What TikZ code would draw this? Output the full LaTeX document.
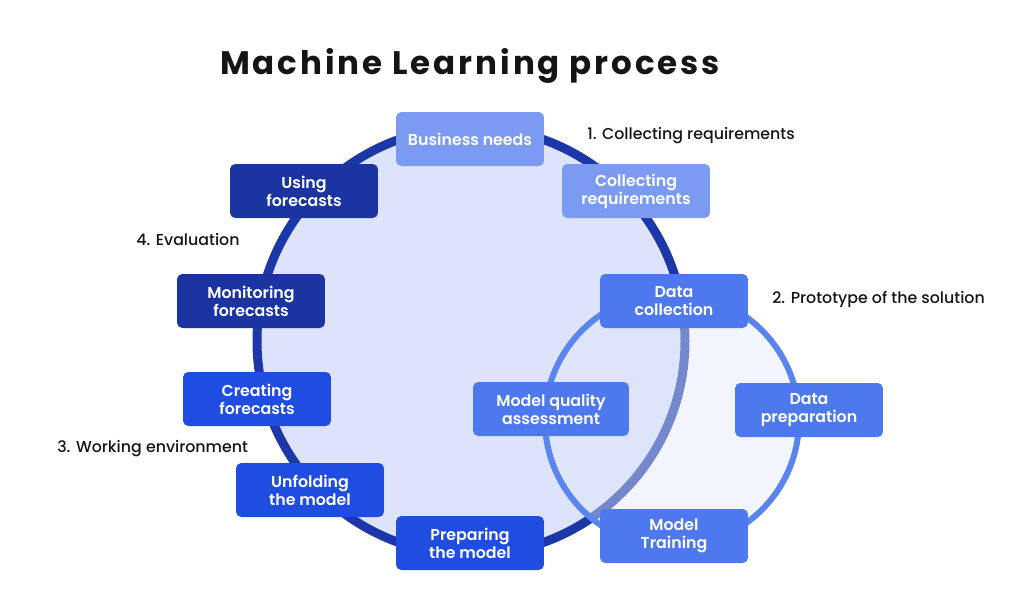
\documentclass[tikz,border=0pt]{standalone}
\usepackage{fontspec}
\setmainfont{Poppins}
\newfontfamily\labelfont{Poppins Medium}
\newfontfamily\boxfont{Poppins SemiBold}
\usepackage{tikz}
\usetikzlibrary{positioning}
\definecolor{ink}{HTML}{151515}
\definecolor{bigring}{HTML}{1C38A8}
\definecolor{bigfill}{HTML}{DCE3FA}
\definecolor{smallring}{HTML}{5A84F0}
\definecolor{smallfill}{HTML}{E2E9FC}
\definecolor{boxlight}{HTML}{7B9BF2}
\definecolor{boxmid}{HTML}{4E78EE}
\definecolor{boxbright}{HTML}{1F4DE2}
\definecolor{boxdark}{HTML}{1B34A2}
\tikzset{
    stagebox/.style={
        rounded corners=3pt, minimum width=2.96cm, minimum height=1.08cm,
        text=white, inner sep=2pt,
        font=\boxfont\fontsize{9}{10.2}\selectfont, align=center
    },
    boxlightstep/.style={stagebox, fill=boxlight},
    boxmidstep/.style={stagebox, fill=boxmid},
    boxbrightstep/.style={stagebox, fill=boxbright},
    boxdarkstep/.style={stagebox, fill=boxdark},
    phaselabel/.style={
        anchor=mid west, inner sep=0pt, text=ink,
        font=\labelfont\fontsize{9}{10}\selectfont
    },
}

\begin{document}
\begin{tikzpicture}[x=0.02cm, y=-0.02cm]
    \useasboundingbox (0,0) rectangle (1024,609);
    % the two cycles
    \coordinate (bigc) at (471,341);
    \coordinate (smallc) at (672,420);
    \draw[bigring, fill=bigfill, line width=9*0.02cm] (bigc) circle[radius=214*0.02cm];
    \fill[smallfill, opacity=0.45] (smallc) circle[radius=127*0.02cm];
    \draw[smallring, line width=6*0.02cm] (smallc) circle[radius=127*0.02cm];

    \node[font=\bfseries\fontsize{18.5}{20}\selectfont\addfontfeatures{LetterSpace=9}, text=ink] (title) at (470,66) {Machine Learning process};

    % outer cycle
    \node[boxlightstep] (needs) at (470,139) {Business needs};
    \node[boxlightstep] (collreq) at (636,191) {Collecting\\requirements};
    \node[boxmidstep] (datacoll) at (674,301) {Data\\collection};
    \node[boxmidstep, minimum width=3.12cm] (quality) at (551,409) {Model quality\\assessment};
    \node[boxbrightstep] (preparing) at (470,543) {Preparing\\the model};
    \node[boxbrightstep] (unfolding) at (310,490) {Unfolding\\the model};
    \node[boxbrightstep] (creating) at (257,399) {Creating\\forecasts};
    \node[boxdarkstep] (monitoring) at (251,301) {Monitoring\\forecasts};
    \node[boxdarkstep] (using) at (304,191) {Using\\forecasts};
    % prototype cycle
    \node[boxmidstep] (dataprep) at (809,410) {Data\\preparation};
    \node[boxmidstep] (training) at (674,536) {Model\\Training};

    % phases
    \node[phaselabel] (phase1) at (587,135) {1. Collecting requirements};
    \node[phaselabel] (phase2) at (772,299) {2. Prototype of the solution};
    \node[phaselabel] (phase3) at (57,448) {3. Working environment};
    \node[phaselabel] (phase4) at (136,241) {4. Evaluation};
\end{tikzpicture}
\end{document}
